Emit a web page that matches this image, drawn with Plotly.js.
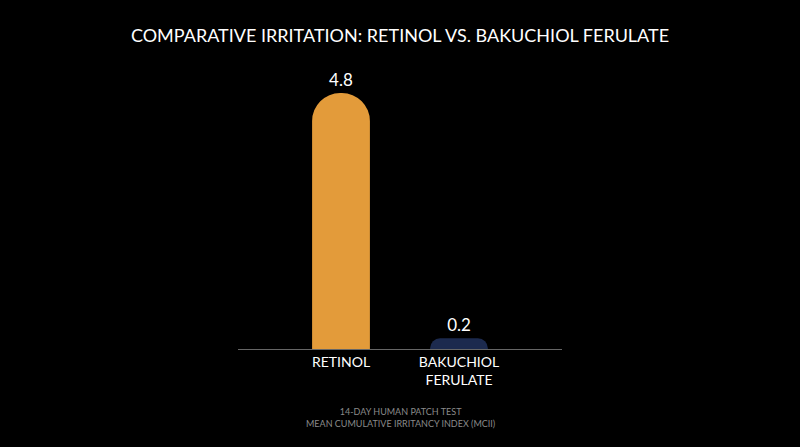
<!DOCTYPE html>
<html>
<head>
<meta charset="utf-8">
<script src="https://cdn.plot.ly/plotly-3.0.1.min.js"></script>
<style>html,body{margin:0;padding:0;background:#000;}#plot{width:800px;height:447px;}</style>
</head>
<body>
<div id="plot"></div>
<script>
const categories = ["RETINOL", "BAKUCHIOL<br>FERULATE"];
const mciiValues = [4.8, 0.2];
const valueLabels = ["4.8", "0.2"];
const barColors = ["#E39B3A", "#1C2A4E"];

const trace = {
  x: [0, 1],
  y: mciiValues,
  type: "bar",
  width: 0.49,
  text: valueLabels,
  textposition: "outside",
  cliponaxis: false,
  textfont: { color: "#ffffff", size: 17, family: "Lato, 'Open Sans', sans-serif" },
  marker: { color: barColors, line: { width: 0 } },
  hoverinfo: "skip",
};

const layout = {
  width: 800,
  height: 447,
  paper_bgcolor: "#000000",
  plot_bgcolor: "#000000",
  margin: { l: 238, r: 238, t: 60, b: 98 },
  barcornerradius: "50%",
  showlegend: false,
  font: { family: "Lato, 'Open Sans', sans-serif", color: "#ffffff" },
  title: {
    text: "COMPARATIVE IRRITATION: RETINOL VS. BAKUCHIOL FERULATE",
    font: { size: 18, color: "#ffffff" },
    x: 0.5,
    xanchor: "center",
    y: 0.92,
    yanchor: "middle",
  },
  xaxis: {
    range: [-0.873, 1.873],
    tickvals: [0, 1],
    ticktext: categories,
    tickfont: { size: 14, color: "#ffffff" },
    showgrid: false,
    zeroline: false,
    showline: true,
    linecolor: "#666666",
    linewidth: 1,
    ticks: "",
    fixedrange: true,
  },
  yaxis: {
    range: [0, 5.42],
    visible: false,
    showgrid: false,
    zeroline: false,
    fixedrange: true,
  },
  annotations: [
    {
      text: "14-DAY HUMAN PATCH TEST<br>MEAN CUMULATIVE IRRITANCY INDEX (MCII)",
      xref: "paper",
      yref: "paper",
      x: 0.5,
      y: -0.19,
      xanchor: "center",
      yanchor: "top",
      showarrow: false,
      font: { size: 9, color: "#8a8a8a" },
    },
  ],
};

Plotly.newPlot("plot", [trace], layout, { displayModeBar: false, staticPlot: true });
</script>
</body>
</html>
